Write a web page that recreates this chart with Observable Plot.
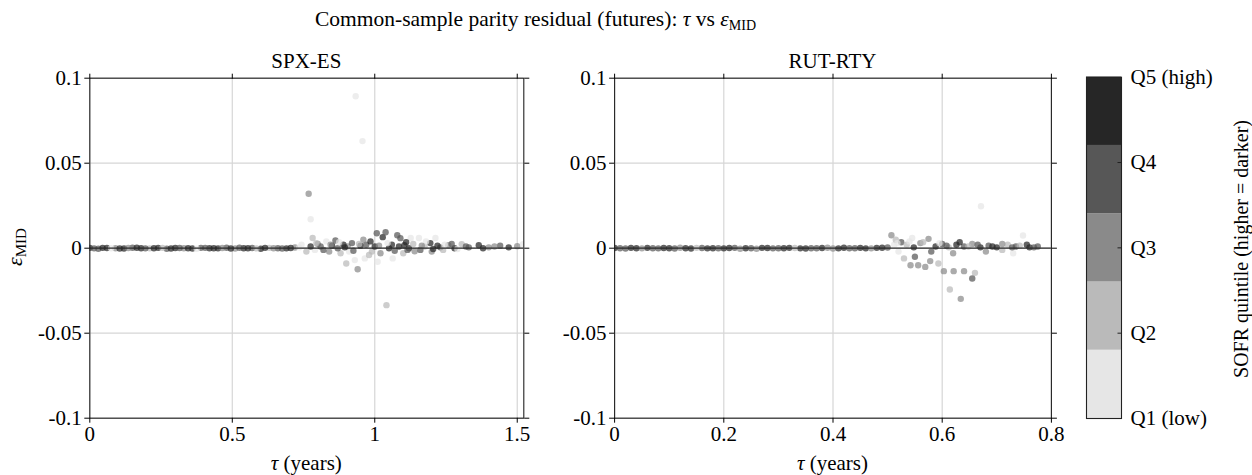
<!DOCTYPE html>
<html>
<head>
<meta charset="utf-8">
<script src="https://cdn.jsdelivr.net/npm/d3@7"></script>
<script src="https://cdn.jsdelivr.net/npm/@observablehq/plot@0.6"></script>
<style>
  html, body { margin: 0; padding: 0; background: #fff; }
  #page { position: relative; width: 1252px; height: 475px; overflow: hidden; font-family: "Liberation Serif", "Times New Roman", serif; }
  #title { position: absolute; top: 9px; left: 0; width: 1071px; text-align: center; font-size: 21.5px; line-height: 21.5px; white-space: nowrap; color: #000; }
  #title sub { font-size: 14px; vertical-align: -4px; line-height: 0; }
  .chart { position: absolute; top: 0; }
</style>
</head>
<body>
<div id="page">
  <div id="left" class="chart" style="left:0px"></div>
  <div id="right" class="chart" style="left:555px"></div>
  <div id="cbar" class="chart" style="left:1080px"></div>
  <div id="title">Common-sample parity residual (futures): <i>τ</i> vs <i>ε</i><sub>MID</sub></div>
</div>
<script>
// ---------- data ----------
const panelTitles = ["SPX-ES", "RUT-RTY"];
const quintileLabels = ["Q1 (low)", "Q2", "Q3", "Q4", "Q5 (high)"];
const quintileColors = ["#e6e6e6", "#bababa", "#8a8a8a", "#575757", "#262626"];

const yTicks = [-0.1, -0.05, 0, 0.05, 0.1];
const yTickLabels = ["-0.1", "-0.05", "0", "0.05", "0.1"];
const spxXTicks = [0, 0.5, 1, 1.5];
const spxXTickLabels = ["0", "0.5", "1", "1.5"];
const rutXTicks = [0, 0.2, 0.4, 0.6, 0.8];
const rutXTickLabels = ["0", "0.2", "0.4", "0.6", "0.8"];
const spxXDomain = [0, 1.523];
const rutXDomain = [0, 0.8];

// SPX-ES: tau (years), residual, SOFR quintile
const spxTau = [
  0.00, 0.03, 0.06, 0.09, 0.12, 0.15, 0.18, 0.21, 0.24, 0.27, 0.30, 0.33, 0.36, 0.39, 0.42, 0.45, 0.48, 0.51, 0.54, 0.57, 0.60, 0.63, 0.66, 0.69, 0.72,
  0.015, 0.045, 0.075, 0.105, 0.135, 0.165, 0.195, 0.225, 0.255, 0.285, 0.315, 0.345, 0.375, 0.405, 0.435, 0.465, 0.495, 0.525, 0.555, 0.585, 0.615, 0.645, 0.675, 0.705, 0.735,
  0.743, 0.768, 0.775, 0.782, 0.80, 0.83, 0.862, 0.88, 0.905, 0.933, 0.957, 0.94, 0.965, 0.99, 1.007, 1.028, 1.038, 1.05, 1.041, 1.063,
  1.079, 1.09, 1.104, 1.126, 1.155, 1.14, 1.175, 1.195, 1.213, 1.23, 1.258, 1.28, 1.305, 1.33, 1.365, 1.40, 1.44, 1.47, 1.50, 1.52,
  0.76, 0.79, 0.81, 0.84, 0.85, 0.87, 0.89, 0.91, 0.92, 0.95, 0.97, 0.98, 1.00, 1.02, 1.06, 1.07, 1.10, 1.12, 1.16, 1.18,
  1.20, 1.22, 1.24, 1.27, 1.29, 0.93, 1.01, 0.90, 0.96, 1.11,
  0.775, 0.795, 0.82, 0.845, 0.875, 0.895, 0.925, 0.945, 0.985, 1.015, 1.045, 1.085, 1.115, 1.135, 1.165, 1.205, 1.245, 1.32, 1.38, 1.42
];
const spxEps = [
  0.0002, -0.0003, 0.0001, 0.0000, -0.0002, 0.0003, 0.0000, -0.0001, 0.0002, -0.0003, 0.0001, 0.0000, -0.0002, 0.0002, 0.0000, -0.0001, 0.0003, -0.0002, 0.0000, 0.0001, -0.0003, 0.0002, 0.0000, -0.0001, 0.0004,
  -0.0001, 0.0002, 0.0000, -0.0002, 0.0001, 0.0003, -0.0001, 0.0000, 0.0002, -0.0002, 0.0001, 0.0000, -0.0003, 0.0002, 0.0000, 0.0001, -0.0002, 0.0003, 0.0000, -0.0001, 0.0002, 0.0000, -0.0002, 0.0001, 0.0005,
  0.0020, 0.0320, 0.0170, 0.0060, 0.0025, 0.0040, 0.0045, -0.0030, 0.0010, 0.0894, 0.0630, -0.0124, -0.0060, -0.0020, 0.0088, 0.0065, 0.0094, 0.0000, -0.0335, -0.0060,
  0.0076, 0.0059, 0.0017, 0.0060, 0.0060, -0.0018, 0.0010, 0.0030, 0.0060, 0.0005, 0.0017, 0.0000, 0.0024, 0.0005, 0.0017, 0.0005, 0.0015, 0.0005, 0.0012, 0.0024,
  -0.0020, -0.0010, 0.0010, -0.0020, 0.0015, 0.0000, 0.0020, -0.0020, 0.0030, 0.0015, 0.0020, -0.0040, 0.0010, -0.0030, 0.0020, -0.0015, -0.0030, 0.0000, -0.0010, 0.0040,
  -0.0020, 0.0015, -0.0010, 0.0025, -0.0005, -0.0070, -0.0080, -0.0090, 0.0050, 0.0035,
  0.0010, 0.0030, -0.0010, 0.0020, 0.0035, 0.0005, -0.0015, 0.0025, 0.0040, 0.0015, 0.0030, 0.0010, -0.0010, 0.0025, 0.0015, -0.0005, 0.0020, 0.0010, 0.0000, 0.0010
];
const spxQ = [
  5, 4, 5, 3, 5, 4, 5, 2, 5, 4, 5, 3, 5, 4, 5, 5, 4, 3, 5, 4, 5, 2, 4, 5, 3,
  4, 5, 1, 5, 3, 5, 4, 5, 2, 5, 4, 5, 1, 4, 5, 3, 5, 4, 5, 2, 5, 3, 4, 5, 1,
  1, 3, 1, 2, 3, 1, 4, 2, 3, 1, 1, 3, 1, 2, 4, 5, 4, 5, 2, 1,
  4, 4, 5, 1, 1, 3, 2, 5, 1, 4, 3, 5, 2, 4, 5, 3, 4, 5, 3, 1,
  2, 1, 4, 3, 5, 4, 5, 1, 4, 5, 4, 2, 5, 3, 5, 4, 2, 5, 4, 1,
  3, 5, 2, 4, 1, 1, 1, 2, 3, 5,
  5, 2, 4, 3, 1, 5, 4, 2, 5, 3, 1, 5, 4, 2, 3, 5, 1, 4, 5, 3
];

// RUT-RTY: tau (years), residual, SOFR quintile
const rutTau = [
  0.00, 0.02, 0.04, 0.06, 0.08, 0.10, 0.12, 0.14, 0.16, 0.18, 0.20, 0.22, 0.24, 0.26, 0.28, 0.30, 0.32, 0.34, 0.36, 0.38, 0.40, 0.42, 0.44, 0.46, 0.48, 0.50,
  0.01, 0.03, 0.05, 0.07, 0.09, 0.11, 0.13, 0.15, 0.17, 0.19, 0.21, 0.23, 0.25, 0.27, 0.29, 0.31, 0.33, 0.35, 0.37, 0.39, 0.41, 0.43, 0.45, 0.47, 0.49,
  0.507, 0.512, 0.525, 0.535, 0.548, 0.56, 0.575, 0.588, 0.60, 0.612, 0.626, 0.64, 0.655, 0.67, 0.685, 0.70, 0.72, 0.748, 0.735, 0.76, 0.775,
  0.671, 0.603, 0.621, 0.64, 0.66, 0.655, 0.614, 0.634, 0.542, 0.556, 0.569, 0.578, 0.593, 0.53, 0.55, 0.52, 0.58, 0.62, 0.68, 0.71, 0.73,
  0.515, 0.545,
  0.518, 0.54, 0.565, 0.595, 0.608, 0.632, 0.648, 0.665, 0.692, 0.71, 0.728, 0.742, 0.755, 0.768
];
const rutEps = [
  0.0001, -0.0002, 0.0000, 0.0002, -0.0001, 0.0000, 0.0003, -0.0002, 0.0001, 0.0000, -0.0001, 0.0002, 0.0000, -0.0003, 0.0001, 0.0000, 0.0002, -0.0001, 0.0000, 0.0001, -0.0002, 0.0003, 0.0000, -0.0001, 0.0002, 0.0004,
  0.0000, 0.0002, -0.0001, 0.0000, 0.0001, -0.0002, 0.0000, 0.0002, -0.0001, 0.0000, 0.0001, -0.0003, 0.0000, 0.0002, -0.0001, 0.0000, 0.0001, -0.0002, 0.0000, 0.0003, -0.0001, 0.0000, 0.0002, -0.0001, 0.0003,
  0.0076, 0.0020, 0.0035, 0.0020, 0.0005, 0.0030, 0.0055, 0.0010, 0.0025, 0.0005, 0.0020, 0.0010, 0.0025, 0.0005, 0.0015, 0.0005, 0.0020, 0.0075, 0.0010, 0.0005, 0.0010,
  0.0247, -0.0135, -0.0135, -0.0135, -0.0145, -0.0178, -0.0243, -0.0298, -0.0100, -0.0100, -0.0110, -0.0076, -0.0090, -0.0060, -0.0050, -0.0020, -0.0020, -0.0030, -0.0020, -0.0010, -0.0030,
  0.0050, 0.0060,
  0.0030, 0.0040, 0.0035, 0.0030, 0.0015, 0.0035, 0.0010, 0.0020, 0.0010, 0.0025, 0.0005, 0.0015, 0.0020, 0.0005
];
const rutQ = [
  5, 4, 5, 5, 4, 5, 3, 5, 4, 5, 5, 4, 5, 3, 5, 4, 5, 5, 4, 5, 3, 5, 4, 5, 5, 4,
  4, 5, 3, 4, 5, 4, 5, 2, 5, 4, 5, 3, 4, 5, 4, 5, 2, 5, 4, 3, 5, 4, 5, 3, 5,
  3, 1, 4, 2, 5, 3, 3, 5, 4, 2, 5, 4, 3, 5, 4, 5, 2, 1, 4, 5, 4,
  1, 3, 3, 3, 2, 4, 2, 3, 3, 3, 3, 3, 2, 2, 4, 1, 4, 3, 3, 2, 1,
  2, 1,
  1, 1, 2, 1, 4, 5, 2, 4, 5, 3, 4, 2, 5, 4
];

// ---------- drawing ----------
const FONT = "'Liberation Serif', 'Times New Roman', serif";
const colorScale = {type: "ordinal", domain: [1, 2, 3, 4, 5], range: quintileColors};

function rows(tau, eps, q) {
  return tau.map((t, i) => ({tau: t, eps: eps[i], q: q[i]}));
}

function panel({data, xDomain, xTicks, xTickLabels, width, marginLeft, marginRight, title, yLabel}) {
  const W = width;
  const svg = Plot.plot({
    width: W, height: 475,
    marginLeft, marginRight, marginTop: 77.7, marginBottom: 57.3,
    style: {fontFamily: FONT, fontSize: "21px", color: "#000", background: "transparent", overflow: "visible"},
    x: {domain: xDomain},
    y: {domain: [-0.1, 0.1]},
    color: colorScale,
    marks: [
      Plot.gridX({ticks: xTicks, stroke: "#d6d6d6", strokeOpacity: 1, strokeWidth: 1.2}),
      Plot.gridY({ticks: yTicks, stroke: "#d6d6d6", strokeOpacity: 1, strokeWidth: 1.2}),
      Plot.dot(data, {x: "tau", y: "eps", fill: "q", r: 3.2, fillOpacity: 0.72, clip: true}),
      Plot.ruleY([0], {stroke: "#2a2a2a", strokeWidth: 1.3}),
      Plot.frame({stroke: "#222", strokeWidth: 1.1}),
      Plot.axisX({anchor: "bottom", ticks: xTicks, tickSize: 5, tickPadding: 3, label: null,
        tickFormat: d => xTickLabels[xTicks.indexOf(d)]}),
      Plot.axisX({anchor: "top", ticks: xTicks, tickSize: 5, label: null, tickFormat: () => ""}),
      Plot.axisY({anchor: "left", ticks: yTicks, tickSize: 5, tickPadding: 3, label: null,
        tickFormat: d => yTickLabels[yTicks.indexOf(d)]}),
      Plot.axisY({anchor: "right", ticks: yTicks, tickSize: 5, label: null, tickFormat: () => ""})
    ]
  });
  const s = d3.select(svg);
  const cx = marginLeft + (W - marginLeft - marginRight) / 2;
  s.append("text").attr("x", cx).attr("y", 68).attr("text-anchor", "middle")
    .attr("font-size", 21).attr("fill", "#000").text(title);
  const xl = s.append("text").attr("x", cx).attr("y", 470).attr("text-anchor", "middle")
    .attr("font-size", 21).attr("fill", "#000");
  xl.append("tspan").attr("font-style", "italic").text("τ");
  xl.append("tspan").text(" (years)");
  if (yLabel) {
    const yl = s.append("text").attr("transform", "translate(22,247) rotate(-90)")
      .attr("text-anchor", "middle").attr("font-size", 22).attr("fill", "#000");
    yl.append("tspan").attr("font-style", "italic").text("ε");
    yl.append("tspan").attr("font-size", 15).attr("dy", 4).text("MID");
  }
  return svg;
}

document.getElementById("left").append(panel({
  data: rows(spxTau, spxEps, spxQ), xDomain: spxXDomain, xTicks: spxXTicks, xTickLabels: spxXTickLabels,
  width: 555, marginLeft: 89.3, marginRight: 31.7, title: panelTitles[0], yLabel: true
}));
document.getElementById("right").append(panel({
  data: rows(rutTau, rutEps, rutQ), xDomain: rutXDomain, xTicks: rutXTicks, xTickLabels: rutXTickLabels,
  width: 525, marginLeft: 59.1, marginRight: 29.1, title: panelTitles[1], yLabel: false
}));

// colorbar
const qLo = 1, qHi = 5, nQ = quintileColors.length;
const step = (qHi - qLo) / nQ;
const bands = quintileColors.map((c, i) => ({y1: qLo + i * step, y2: qLo + (i + 1) * step, q: i + 1}));
const qTicks = quintileLabels.map((_, i) => i + 1);
const cb = Plot.plot({
  width: 172, height: 475,
  marginLeft: 6, marginRight: 131, marginTop: 76.7, marginBottom: 57,
  style: {fontFamily: FONT, fontSize: "21px", color: "#000", background: "transparent", overflow: "visible"},
  x: {domain: [0, 1], axis: null},
  y: {domain: [qLo, qHi]},
  color: colorScale,
  marks: [
    Plot.rect(bands, {x1: 0, x2: 1, y1: "y1", y2: "y2", fill: "q"}),
    Plot.ruleY(qTicks.slice(1, -1), {x1: 0.9, x2: 1, stroke: "#222", strokeWidth: 1}),
    Plot.frame({stroke: "#222", strokeWidth: 1.1}),
    Plot.axisY({anchor: "right", ticks: qTicks, tickSize: 0, tickPadding: 9, label: null,
      tickFormat: d => quintileLabels[d - 1]})
  ]
});
d3.select(cb).append("text").attr("transform", "translate(163,249) rotate(-90)")
  .attr("text-anchor", "middle").attr("dominant-baseline", "middle")
  .attr("font-size", 20).attr("fill", "#000").text("SOFR quintile (higher = darker)");
document.getElementById("cbar").append(cb);
</script>
</body>
</html>
